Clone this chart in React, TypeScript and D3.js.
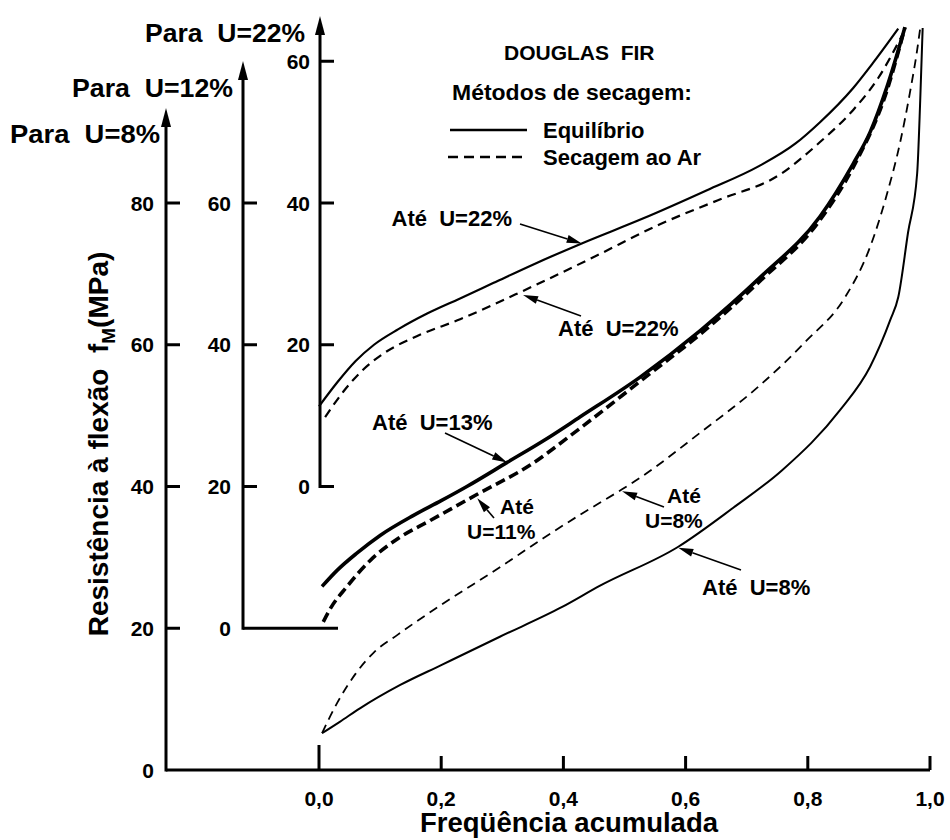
import React from "react";
import * as d3 from "d3";

// ---- data -------------------------------------------------------------
const xTicks = [0, 0.2, 0.4, 0.6, 0.8, 1.0];
const xTickLabels = ["0,0", "0,2", "0,4", "0,6", "0,8", "1,0"];
const mainTicks = [0, 20, 40, 60, 80];
const u12Ticks = [0, 20, 40, 60];
const u22Ticks = [0, 20, 40, 60];

// Equilíbrio, até U=22% (read on the "Para U=22%" axis)
const eq22Freq = [0, 0.03, 0.06, 0.09, 0.13, 0.177, 0.23, 0.285, 0.35, 0.43, 0.53, 0.635, 0.72, 0.78, 0.82, 0.874, 0.907, 0.948];
const eq22Val = [11.3, 14.7, 17.7, 20.0, 22.2, 24.4, 26.5, 28.7, 31.3, 34.3, 37.8, 41.8, 45.2, 48.4, 51.4, 56.2, 59.8, 64.6];

// Secagem ao ar, até U=22% (read on the "Para U=22%" axis)
const ar22Freq = [0.01, 0.04, 0.07, 0.108, 0.16, 0.231, 0.334, 0.448, 0.558, 0.653, 0.754, 0.82, 0.874, 0.915, 0.954];
const ar22Val = [9.8, 13.4, 16.3, 18.9, 21.2, 23.6, 27.6, 32.3, 37.0, 40.4, 44.0, 48.6, 53.1, 57.6, 63.6];

// Equilíbrio, até U=13% (read on the "Para U=12%" axis)
const eq13Freq = [0.005, 0.03, 0.062, 0.1, 0.154, 0.2, 0.242, 0.308, 0.37, 0.427, 0.525, 0.624, 0.722, 0.82, 0.874, 0.902, 0.93, 0.959];
const eq13Val = [5.9, 8.2, 10.6, 13.1, 15.9, 18.0, 20.0, 23.4, 26.6, 29.8, 35.4, 42.0, 49.5, 58.1, 65.5, 70.0, 76.5, 84.8];

// Secagem ao ar, até U=11% (read on the "Para U=12%" axis)
const ar11Freq = [0.007, 0.018, 0.046, 0.083, 0.13, 0.182, 0.259, 0.345, 0.427, 0.525, 0.624, 0.722, 0.82, 0.874, 0.93, 0.959];
const ar11Val = [0.9, 2.7, 5.9, 9.5, 12.7, 15.2, 18.9, 23.0, 28.2, 34.8, 41.5, 49.0, 57.6, 65.0, 76.0, 84.8];

// Equilíbrio, até U=8% (read on the "Para U=8%" axis)
const eq8Freq = [0.005, 0.034, 0.067, 0.133, 0.2, 0.296, 0.398, 0.46, 0.588, 0.678, 0.758, 0.853, 0.902, 0.935, 0.948, 0.964, 0.979, 0.984, 0.988];
const eq8Val = [5.2, 6.8, 8.7, 12.0, 14.8, 18.8, 23.0, 26.0, 31.5, 37.0, 42.3, 50.8, 56.9, 63.5, 66.7, 75.8, 84.2, 94.5, 104.7];

// Secagem ao ar, até U=8% (read on the "Para U=8%" axis)
const ar8Freq = [0.005, 0.03, 0.06, 0.09, 0.129, 0.2, 0.296, 0.367, 0.427, 0.496, 0.525, 0.624, 0.722, 0.797, 0.861, 0.902, 0.93, 0.951, 0.967, 0.979, 0.984];
const ar8Val = [5.2, 9.5, 13.6, 16.6, 19.1, 23.3, 28.6, 32.7, 36.0, 39.6, 41.2, 47.6, 54.3, 60.5, 66.7, 73.8, 81.4, 88.5, 95.5, 101.6, 104.7];

// ---- layout -----------------------------------------------------------
const W = 950;
const H = 840;
const FONT = "'Liberation Sans', Arial, Helvetica, sans-serif";

const x = d3.scaleLinear().domain([0, 1]).range([319, 930]);
const yMain = d3.scaleLinear().domain([0, 80]).range([770, 203]);
const y12 = d3.scaleLinear().domain([-20, 60]).range([770, 203]);
const y22 = d3.scaleLinear().domain([-40, 40]).range([770, 203]);

const AX_MAIN = 166;
const AX_12 = 243;
const AX_22 = 320;

type Curve = { freq: number[]; val: number[]; y: d3.ScaleLinear<number, number> };

const curves: Record<string, Curve & { width: number; dash?: string }> = {
  eq22: { freq: eq22Freq, val: eq22Val, y: y22, width: 2.2 },
  ar22: { freq: ar22Freq, val: ar22Val, y: y22, width: 2.2, dash: "9 6" },
  eq13: { freq: eq13Freq, val: eq13Val, y: y12, width: 3.6 },
  ar11: { freq: ar11Freq, val: ar11Val, y: y12, width: 3.6, dash: "10 5" },
  eq8: { freq: eq8Freq, val: eq8Val, y: yMain, width: 2 },
  ar8: { freq: ar8Freq, val: ar8Val, y: yMain, width: 1.8, dash: "9 6" },
};

function pathOf(c: Curve) {
  const pts = c.freq.map((f, i) => [f, c.val[i]] as [number, number]);
  return d3
    .line<[number, number]>()
    .x((d) => x(d[0]))
    .y((d) => c.y(d[1]))
    .curve(d3.curveMonotoneX)(pts) as string;
}

function pointOn(c: Curve, f: number): [number, number] {
  const v = d3.scaleLinear().domain(c.freq).range(c.val)(f);
  return [x(f), c.y(v)];
}

// callouts: which curve, at which frequency, where the text sits
const callouts = [
  { key: "eq22", f: 0.43, dy: 0, tail: [520, 224], lines: ["Até  U=22%"], tx: 512, ty: [226], anchor: "end", size: 22 },
  { key: "ar22", f: 0.334, dy: 4, tail: [581, 316], lines: ["Até  U=22%"], tx: 558, ty: [336], anchor: "start", size: 22 },
  { key: "eq13", f: 0.308, dy: 0, tail: [445, 433], lines: ["Até  U=13%"], tx: 372, ty: [430], anchor: "start", size: 22 },
  { key: "ar11", f: 0.259, dy: 4, tail: [494, 518], lines: ["Até", "U=11%"], tx: [500, 467], ty: [514, 539], anchor: "start", size: 21 },
  { key: "ar8", f: 0.496, dy: 2, tail: [664, 507], lines: ["Até", "U=8%"], tx: [667, 645], ty: [503, 528], anchor: "start", size: 21 },
  { key: "eq8", f: 0.588, dy: 1, tail: [741, 570], lines: ["Até  U=8%"], tx: 702, ty: [595], anchor: "start", size: 22 },
];

function Arrow({ x1, y1, x2, y2, head = 15, half = 4 }: { x1: number; y1: number; x2: number; y2: number; head?: number; half?: number }) {
  const dx = x2 - x1;
  const dy = y2 - y1;
  const len = Math.hypot(dx, dy);
  const ux = dx / len;
  const uy = dy / len;
  const bx = x2 - ux * head;
  const by = y2 - uy * head;
  const px = -uy * half;
  const py = ux * half;
  return (
    <g>
      <line x1={x1} y1={y1} x2={bx} y2={by} stroke="#000" strokeWidth={1.6} />
      <polygon points={`${x2},${y2} ${bx + px},${by + py} ${bx - px},${by - py}`} fill="#000" />
    </g>
  );
}

function AxisArrowHead({ ax, tip }: { ax: number; tip: number }) {
  return <polygon points={`${ax},${tip} ${ax - 5},${tip + 19} ${ax + 5},${tip + 19}`} fill="#000" />;
}

export default function App() {
  const tickLen = 14;
  const tickFont = 21;
  return (
    <svg
      width={W}
      height={H}
      viewBox={`0 0 ${W} ${H}`}
      style={{ position: "absolute", left: 0, top: 0, background: "#fff" }}
      fontFamily={FONT}
      fontWeight="bold"
    >
      <rect width={W} height={H} fill="#fff" />

      {/* x axis */}
      <line x1={AX_MAIN} x2={x(1)} y1={yMain(0)} y2={yMain(0)} stroke="#000" strokeWidth={3} />
      {xTicks.map((t, i) => (
        <g key={t}>
          <line x1={x(t)} x2={x(t)} y1={yMain(0)} y2={yMain(0) - (i === 0 ? 25 : tickLen)} stroke="#000" strokeWidth={3} />
          <text x={x(t)} y={806} textAnchor="middle" fontSize={tickFont}>
            {xTickLabels[i]}
          </text>
        </g>
      ))}
      <text x={569} y={832} textAnchor="middle" fontSize={27} textLength={298} lengthAdjust="spacingAndGlyphs">
        Freqüência acumulada
      </text>

      {/* main y axis: Para U=8% */}
      <line x1={AX_MAIN} x2={AX_MAIN} y1={yMain(0) + 1.5} y2={125} stroke="#000" strokeWidth={3} />
      <AxisArrowHead ax={AX_MAIN} tip={108} />
      {mainTicks.map((t) => (
        <g key={t}>
          {t > 0 && <line x1={AX_MAIN} x2={AX_MAIN + tickLen} y1={yMain(t)} y2={yMain(t)} stroke="#000" strokeWidth={3} />}
          <text x={AX_MAIN - 12} y={yMain(t)} dy="0.36em" textAnchor="end" fontSize={tickFont}>
            {t}
          </text>
        </g>
      ))}
      <text x={10} y={143} fontSize={25} textLength={150} lengthAdjust="spacingAndGlyphs" style={{ whiteSpace: "pre" }}>
        {"Para  U=8%"}
      </text>

      {/* second y axis: Para U=12% */}
      <line x1={AX_12} x2={AX_12} y1={y12(0) + 1.5} y2={78} stroke="#000" strokeWidth={3} />
      <line x1={AX_12} x2={338} y1={y12(0)} y2={y12(0)} stroke="#000" strokeWidth={3} />
      <AxisArrowHead ax={AX_12} tip={61} />
      {u12Ticks.map((t) => (
        <g key={t}>
          {t > 0 && <line x1={AX_12} x2={AX_12 + tickLen} y1={y12(t)} y2={y12(t)} stroke="#000" strokeWidth={3} />}
          <text x={AX_12 - 12} y={y12(t)} dy="0.36em" textAnchor="end" fontSize={tickFont}>
            {t}
          </text>
        </g>
      ))}
      <text x={72} y={97} fontSize={25} textLength={161} lengthAdjust="spacingAndGlyphs" style={{ whiteSpace: "pre" }}>
        {"Para  U=12%"}
      </text>

      {/* third y axis: Para U=22% */}
      <line x1={AX_22} x2={AX_22} y1={y22(0) + 1.5} y2={32} stroke="#000" strokeWidth={3} />
      <line x1={AX_22} x2={AX_22 + tickLen} y1={y22(0)} y2={y22(0)} stroke="#000" strokeWidth={3} />
      <AxisArrowHead ax={AX_22} tip={16} />
      {u22Ticks.map((t) => (
        <g key={t}>
          {t > 0 && <line x1={AX_22} x2={AX_22 + tickLen} y1={y22(t)} y2={y22(t)} stroke="#000" strokeWidth={3} />}
          <text x={AX_22 - 10} y={y22(t)} dy="0.36em" textAnchor="end" fontSize={tickFont}>
            {t}
          </text>
        </g>
      ))}
      <text x={145} y={42} fontSize={25} textLength={160} lengthAdjust="spacingAndGlyphs" style={{ whiteSpace: "pre" }}>
        {"Para  U=22%"}
      </text>

      {/* y axis title */}
      <text transform="translate(108,444) rotate(-90)" textAnchor="middle" fontSize={28} style={{ whiteSpace: "pre" }}>
        {"Resistência à flexão  f"}
        <tspan dy={7} fontSize={19}>M</tspan>
        <tspan dy={-7}>(MPa)</tspan>
      </text>

      {/* curves */}
      {Object.entries(curves).map(([k, c]) => (
        <path
          key={k}
          d={pathOf(c)}
          fill="none"
          stroke="#000"
          strokeWidth={c.width}
          strokeDasharray={c.dash}
          strokeLinejoin="round"
        />
      ))}

      {/* callouts */}
      {callouts.map((c) => {
        const [px, py] = pointOn(curves[c.key], c.f);
        const txs = Array.isArray(c.tx) ? c.tx : c.lines.map(() => c.tx as number);
        return (
          <g key={c.key}>
            <Arrow x1={c.tail[0]} y1={c.tail[1]} x2={px} y2={py + c.dy} />
            {c.lines.map((s, i) => (
              <text key={i} x={txs[i]} y={c.ty[i]} textAnchor={c.anchor as any} fontSize={c.size} style={{ whiteSpace: "pre" }}>
                {s}
              </text>
            ))}
          </g>
        );
      })}

      {/* legend */}
      <text x={504} y={60} fontSize={21} style={{ whiteSpace: "pre" }}>
        {"DOUGLAS  FIR"}
      </text>
      <text x={452} y={100} fontSize={22} textLength={240} lengthAdjust="spacingAndGlyphs">
        Métodos de secagem:
      </text>
      <line x1={450} x2={527} y1={130} y2={130} stroke="#000" strokeWidth={2.6} />
      <text x={543} y={138} fontSize={22}>
        Equilíbrio
      </text>
      <line x1={448} x2={527} y1={157} y2={157} stroke="#000" strokeWidth={2.6} strokeDasharray="10 6" />
      <text x={543} y={165} fontSize={22}>
        Secagem ao Ar
      </text>
    </svg>
  );
}
